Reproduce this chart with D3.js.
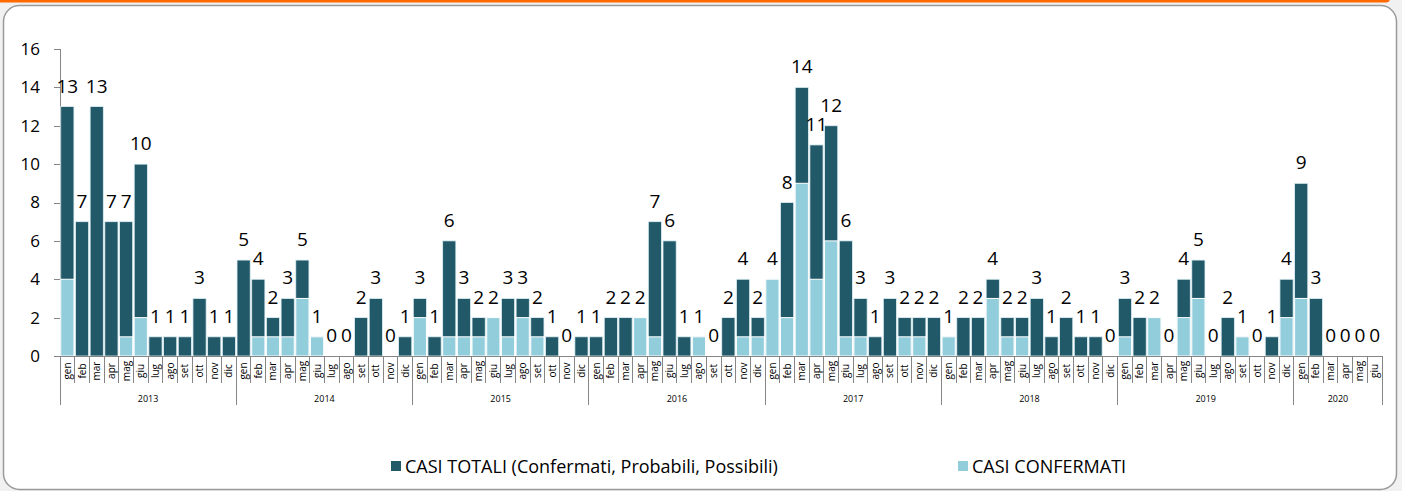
<!DOCTYPE html>
<html lang="it">
<head>
<meta charset="utf-8" />
<title>Casi totali e confermati per mese</title>
<script src="https://cdn.jsdelivr.net/npm/d3@7"></script>
<style>
    body, html {
        margin: 0;
        padding: 0;
        background: #f1f1f1;
        font-family: "Open Sans", Arial, sans-serif;
        overflow: hidden;
    }
    .axis path, .axis line {
        stroke: #868686;
        shape-rendering: crispEdges;
    }
    .axis text {
        font-size: 17px;
        fill: #000;
        font-family: "Open Sans", Arial, sans-serif;
    }
    text.value {
        font-size: 19px;
        text-anchor: middle;
        fill: #000;
    }
    text.month {
        font-size: 10px;
        fill: #000;
    }
    text.year {
        font-size: 9px;
        text-anchor: middle;
        fill: #000;
    }
    text.legend {
        font-size: 18px;
        fill: #000;
    }
</style>
</head>
<body>
<div id="chart"></div>
<script>
    // month / year tick labels
    const months = ["gen", "feb", "mar", "apr", "mag", "giu", "lug", "ago", "set", "ott", "nov", "dic"];
    const years = [2013, 2014, 2015, 2016, 2017, 2018, 2019, 2020];

    // CASI TOTALI (Confermati, Probabili, Possibili), gen 2013 .. giu 2020
    const totals = [
        13, 7, 13, 7, 7, 10, 1, 1, 1, 3, 1, 1,
        5, 4, 2, 3, 5, 1, 0, 0, 2, 3, 0, 1,
        3, 1, 6, 3, 2, 2, 3, 3, 2, 1, 0, 1,
        1, 2, 2, 2, 7, 6, 1, 1, 0, 2, 4, 2,
        4, 8, 14, 11, 12, 6, 3, 1, 3, 2, 2, 2,
        1, 2, 2, 4, 2, 2, 3, 1, 2, 1, 1, 0,
        3, 2, 2, 0, 4, 5, 0, 2, 1, 0, 1, 4,
        9, 3, 0, 0, 0, 0
    ];
    // CASI CONFERMATI
    const confirmed = [
        4, 0, 0, 0, 1, 2, 0, 0, 0, 0, 0, 0,
        0, 1, 1, 1, 3, 1, 0, 0, 0, 0, 0, 0,
        2, 0, 1, 1, 1, 2, 1, 2, 1, 0, 0, 0,
        0, 0, 0, 2, 1, 0, 0, 1, 0, 0, 1, 1,
        4, 2, 9, 4, 6, 1, 1, 0, 0, 1, 1, 0,
        1, 0, 0, 3, 1, 1, 0, 0, 0, 0, 0, 0,
        1, 0, 2, 0, 2, 3, 0, 0, 1, 0, 0, 2,
        3, 0, 0, 0, 0, 0
    ];
    const yTicks = [0, 2, 4, 6, 8, 10, 12, 14, 16];

    const seriesNames = ["CASI TOTALI (Confermati, Probabili, Possibili)", "CASI CONFERMATI"];
    const colors = ["#215968", "#92cddc"];

    const W = 1402, H = 491;

    // one row per month
    const data = totals.map((t, i) => ({
        key: years[Math.floor(i / 12)] + "-" + months[i % 12],
        month: months[i % 12],
        year: years[Math.floor(i / 12)],
        total: t,
        conf: confirmed[i]
    }));

    const svg = d3.select("#chart").append("svg")
        .attr("width", W)
        .attr("height", H);

    // frame: orange strip + rounded panel
    svg.append("rect")
        .attr("x", -10).attr("y", -6)
        .attr("width", 1400).attr("height", 8.5)
        .attr("rx", 4)
        .attr("fill", "#ff6a00");
    svg.append("rect")
        .attr("x", 3.5).attr("y", 5.5)
        .attr("width", 1393).attr("height", 484)
        .attr("rx", 16)
        .attr("fill", "#fff")
        .attr("stroke", "#9a9a9a")
        .attr("stroke-width", 1.5);

    const x = d3.scaleBand()
        .domain(data.map(d => d.key))
        .range([60, 1382])
        .padding(0);

    const y = d3.scaleLinear()
        .domain([0, 16])
        .range([356, 49]);

    const yAxis = d3.axisLeft(y).tickValues(yTicks).tickSize(6).tickPadding(14);
    svg.append("g")
        .attr("class", "axis")
        .attr("transform", "translate(60,0)")
        .call(yAxis)
        .call(g => g.select(".domain").attr("d", "M0,49V356"));

    // bars: totals first, confirmed drawn over them
    const bw = x.bandwidth();
    svg.append("g").selectAll("rect")
        .data(data.filter(d => d.total > 0))
        .join("rect")
        .attr("x", d => x(d.key) + 0.75)
        .attr("width", bw - 1.5)
        .attr("y", d => y(d.total))
        .attr("height", d => y(0) - y(d.total))
        .attr("fill", colors[0])
        .attr("stroke", "#dff0f5")
        .attr("stroke-width", 0.8);

    svg.append("g").selectAll("rect")
        .data(data.filter(d => d.conf > 0))
        .join("rect")
        .attr("x", d => x(d.key) + 0.75)
        .attr("width", bw - 1.5)
        .attr("y", d => y(d.conf))
        .attr("height", d => y(0) - y(d.conf))
        .attr("fill", colors[1])
        .attr("stroke", "#ffffff")
        .attr("stroke-width", 1);

    // value labels (totals)
    svg.append("g").selectAll("text")
        .data(data)
        .join("text")
        .attr("class", "value")
        .attr("x", d => x(d.key) + bw / 2)
        .attr("y", d => y(d.total) - 14)
        .text(d => d.total);

    // category axis: baseline, month separators, year separators
    const xa = svg.append("g").attr("class", "axis");
    xa.append("line")
        .attr("x1", 54).attr("x2", 1382)
        .attr("y1", y(0)).attr("y2", y(0));

    xa.selectAll("line.sep")
        .data(data.filter(d => d.month !== "gen").concat([null]))
        .join("line")
        .attr("class", "sep")
        .attr("x1", d => d ? x(d.key) : 1382)
        .attr("x2", d => d ? x(d.key) : 1382)
        .attr("y1", y(0))
        .attr("y2", d => d ? 383 : 405);

    xa.selectAll("line.ysep")
        .data(years)
        .join("line")
        .attr("class", "ysep")
        .attr("x1", d => x(d + "-gen"))
        .attr("x2", d => x(d + "-gen"))
        .attr("y1", y(0))
        .attr("y2", 405);

    svg.append("g").selectAll("text")
        .data(data)
        .join("text")
        .attr("class", "month")
        .attr("text-anchor", "middle")
        .attr("transform", d => "translate(" + (x(d.key) + bw / 2 + 3.5) + ",371) rotate(-90)")
        .text(d => d.month);

    svg.append("g").selectAll("text")
        .data(years)
        .join("text")
        .attr("class", "year")
        .attr("x", yr => {
            const ks = data.filter(d => d.year === yr);
            return (x(ks[0].key) + x(ks[ks.length - 1].key) + bw) / 2;
        })
        .attr("y", 402)
        .text(d => d);

    // legend
    const legendX = [391, 958];
    const lg = svg.append("g").selectAll("g")
        .data(seriesNames)
        .join("g")
        .attr("transform", (d, i) => "translate(" + legendX[i] + ",461)");
    lg.append("rect")
        .attr("width", 10).attr("height", 10)
        .attr("fill", (d, i) => colors[i]);
    lg.append("text")
        .attr("class", "legend")
        .attr("x", 14)
        .attr("y", 11.5)
        .text(d => d);
</script>
</body>
</html>
